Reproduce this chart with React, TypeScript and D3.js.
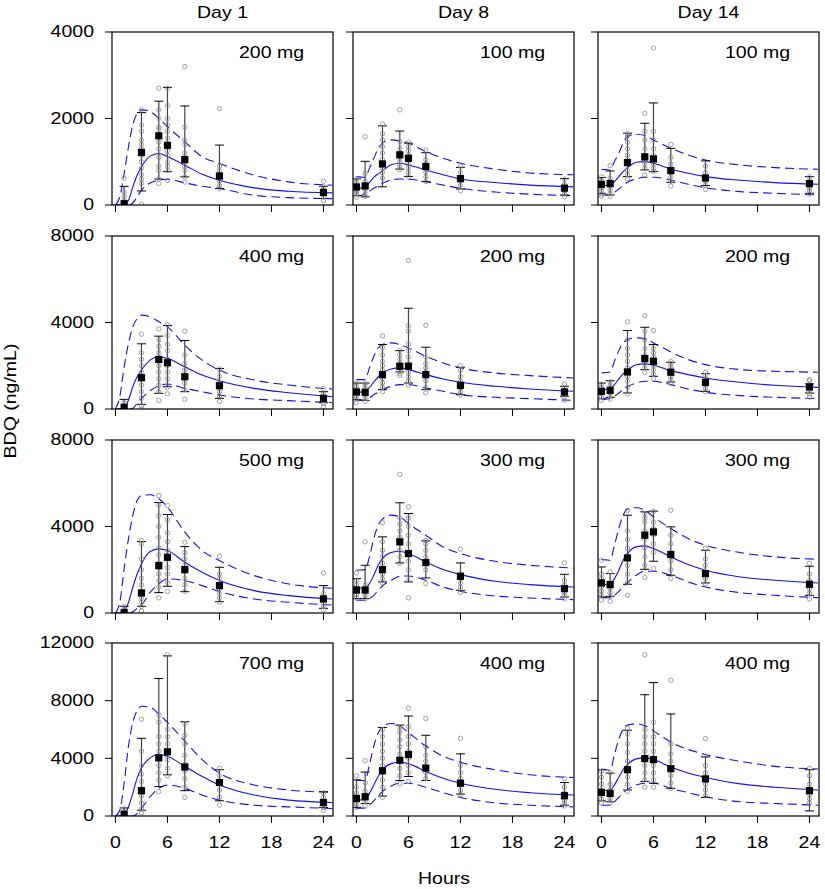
import * as d3 from "d3";

// Layout of the 4 x 3 grid (rows = dose groups, columns = days)
const colLeft = [112, 353, 598];
const rowTop = [32, 236, 440, 643];
const PW = 221;
const PH = 173;
const FONT = "'Liberation Sans', Arial, Helvetica, sans-serif";
const STRETCH = 1.22;

const days = ["Day 1", "Day 8", "Day 14"];
const doseLabels = [
  "200 mg", "100 mg", "100 mg",
  "400 mg", "200 mg", "200 mg",
  "500 mg", "300 mg", "300 mg",
  "700 mg", "400 mg", "400 mg",
];
const rowMax = [4000, 8000, 8000, 12000];
const rowTicks = [
  [0, 2000, 4000],
  [0, 4000, 8000],
  [0, 4000, 8000],
  [0, 4000, 8000, 12000],
];
const xTicks = [0, 6, 12, 18, 24];

// sampling times (h)
const day1Times = [1, 3, 5, 6, 8, 12, 24];
const laterTimes = [0, 1, 3, 5, 6, 8, 12, 24];
const curveTimes = [0, 0.5, 1, 1.5, 2, 2.5, 3, 4, 5, 6, 8, 10, 12, 16, 20, 25];

// observed mean per sampling time, panels in reading order
const meanConc = [
  [30, 1215, 1600, 1380, 1050, 670, 290],
  [417, 440, 950, 1160, 1080, 890, 610, 390],
  [479, 494, 980, 1112, 1065, 795, 625, 494],
  [77, 1446, 2292, 2138, 1492, 1077, 492],
  [787, 772, 1590, 1976, 1976, 1590, 1096, 787],
  [818, 864, 1714, 2330, 2208, 1700, 1235, 1020],
  [15, 926, 2192, 2578, 2007, 1266, 648],
  [1065, 1065, 2007, 3289, 2748, 2331, 1698, 1127],
  [1390, 1312, 2548, 3598, 3752, 2702, 1822, 1328],
  [117, 1757, 4030, 4452, 3397, 2320, 937],
  [1218, 1335, 3140, 3866, 4264, 3327, 2272, 1406],
  [1640, 1570, 3210, 3983, 3913, 3280, 2577, 1757],
];

const lowerBar = [
  [0, 325, 600, 770, 650, 380, 150],
  [216, 190, 420, 830, 660, 540, 370, 230],
  [270, 232, 656, 810, 770, 525, 450, 270],
  [0, 215, 723, 1030, 800, 492, 292],
  [430, 400, 895, 1714, 1200, 895, 663, 587],
  [480, 540, 740, 1820, 1513, 1250, 818, 740],
  [0, 309, 942, 1235, 988, 525, 216],
  [664, 664, 1436, 2316, 1436, 1621, 1050, 741],
  [741, 772, 1328, 2022, 2393, 1745, 1390, 818],
  [0, 400, 2038, 2858, 1757, 1054, 586],
  [586, 867, 1382, 2460, 2741, 2460, 1523, 750],
  [1054, 984, 1804, 2390, 2273, 1921, 1289, 351],
];

const upperBar = [
  [430, 2136, 2400, 2720, 2290, 1385, 433],
  [602, 1010, 1830, 1710, 1430, 1210, 870, 610],
  [633, 787, 1660, 1890, 2360, 1310, 1020, 656],
  [446, 3014, 3368, 3860, 3168, 1876, 800],
  [1200, 1200, 2980, 2700, 4660, 2856, 1930, 1050],
  [1200, 1310, 3630, 3780, 2980, 2160, 1636, 1160],
  [309, 3304, 5110, 4555, 3072, 2115, 1266],
  [1590, 2208, 3520, 5095, 4601, 3335, 2316, 1791],
  [2130, 1822, 4524, 4678, 4709, 3983, 2903, 2162],
  [560, 5390, 9536, 11106, 6537, 3210, 1687],
  [2507, 3046, 6139, 6303, 6935, 5600, 4311, 2320],
  [3210, 2976, 5951, 8411, 9255, 7076, 4100, 3210],
];

// individual concentrations per sampling time
const obsConc = [
  [[0, 50, 100, 200, 300, 620], [20, 500, 600, 700, 850, 1000, 1150, 1300, 1400, 1500, 1700, 1850, 2200], [500, 600, 800, 900, 1100, 1300, 1450, 1600, 1750, 1800, 2000, 2200, 2700], [570, 800, 900, 1000, 1150, 1250, 1400, 1550, 1700, 1850, 2000, 2300, 2700], [530, 650, 800, 900, 1000, 1100, 1200, 1400, 1500, 1800, 3200], [380, 450, 550, 650, 700, 800, 900, 2230], [100, 180, 250, 300, 350, 420, 550]],
  [[180, 250, 300, 350, 400, 450, 520, 600], [200, 260, 350, 450, 550, 730, 1580], [620, 750, 850, 950, 1050, 1200, 1350, 1500, 1650, 1870], [820, 900, 1000, 1100, 1200, 1300, 1470, 2200], [650, 750, 850, 950, 1050, 1150, 1250, 1350, 1450], [540, 650, 750, 850, 950, 1050, 1270], [330, 450, 550, 650, 750, 900], [190, 260, 330, 400, 480, 600]],
  [[200, 250, 330, 400, 480, 560, 650], [200, 260, 350, 450, 550, 620, 910], [600, 700, 800, 950, 1050, 1150, 1300, 1450, 1600, 1650], [700, 850, 950, 1050, 1150, 1300, 1500, 1700, 2120], [780, 850, 950, 1050, 1150, 1300, 1500, 1700, 3630], [440, 550, 650, 750, 850, 950, 1100, 1400], [360, 450, 550, 650, 750, 900], [250, 330, 400, 480, 550, 650]],
  [[0, 50, 100, 150, 300], [0, 150, 500, 800, 1100, 1400, 1700, 2000, 2300, 2600, 3460], [400, 800, 1100, 1400, 1700, 2000, 2300, 2600, 2900, 3200, 3700], [700, 1000, 1400, 1700, 2000, 2300, 2700, 3000, 3400, 3900], [450, 900, 1200, 1500, 1800, 2100, 2500, 3600], [350, 600, 800, 1000, 1200, 1500, 1850], [100, 250, 400, 550, 700, 950]],
  [[300, 450, 600, 750, 900, 1050, 1200], [350, 500, 650, 800, 950, 1100, 1200], [800, 1000, 1200, 1400, 1600, 1800, 2000, 2200, 2500, 2850, 3380], [1550, 1650, 1750, 1900, 2000, 2100, 2300, 2500, 2700], [1100, 1300, 1500, 1700, 1900, 2100, 2400, 2700, 3000, 3600, 3850, 6870], [750, 1000, 1300, 1500, 1700, 1900, 2100, 2400, 3870], [650, 800, 950, 1100, 1300, 1500, 1800, 2000], [400, 550, 700, 850, 1000, 1150]],
  [[400, 550, 700, 850, 1000, 1150], [450, 600, 750, 900, 1050, 1250], [700, 1000, 1300, 1500, 1700, 1900, 2200, 2500, 2800, 3200, 4030], [1700, 1900, 2100, 2300, 2500, 2800, 3200, 3600, 4320], [1400, 1600, 1800, 2000, 2200, 2400, 2600, 2800, 3630], [1200, 1350, 1500, 1650, 1800, 1950, 2100, 2200], [800, 950, 1100, 1250, 1400, 1550, 1700], [550, 700, 850, 950, 1100, 1300, 1360]],
  [[0, 50, 150, 300], [100, 300, 500, 700, 1000, 1300, 1600, 2000, 2500, 3200, 3350], [700, 1200, 1500, 1800, 2100, 2300, 2700, 3000, 3500, 4000, 4500, 5000, 5430], [1000, 1400, 1800, 2100, 2500, 2900, 3300, 3700, 4300, 4970], [1000, 1300, 1600, 1900, 2200, 2500, 2800, 3270], [500, 700, 900, 1100, 1300, 1600, 1800, 2620], [150, 300, 450, 600, 750, 900, 1850]],
  [[700, 850, 1000, 1150, 1300, 1500, 1850], [650, 800, 950, 1100, 1300, 3290], [1400, 1600, 1800, 2000, 2300, 2600, 2900, 3300, 4180], [2300, 2600, 2900, 3200, 3500, 3800, 4100, 4400, 6410], [700, 1500, 2000, 2400, 2800, 3200, 3600, 4000, 4400, 4910], [1360, 2000, 2300, 2600, 2900, 3200, 3350], [950, 1200, 1400, 1600, 1800, 2950], [650, 800, 950, 1100, 1300, 1500, 2320]],
  [[600, 800, 1000, 1200, 1400, 1600, 1800, 2440], [540, 750, 950, 1150, 1400, 1900], [820, 1400, 1800, 2200, 2600, 3000, 3400, 3800, 4750], [1640, 2200, 2600, 3000, 3400, 3800, 4200, 4400, 4600], [2050, 2800, 3200, 3600, 3900, 4200, 4700], [1600, 2000, 2400, 2800, 3200, 3600, 4750], [1350, 1600, 1900, 2200, 2500, 3000], [650, 900, 1100, 1300, 1500, 1800, 2300]],
  [[0, 100, 300, 500], [200, 500, 900, 1400, 1900, 2400, 2900, 3500, 4500, 6720], [1700, 2500, 3000, 3500, 4000, 4500, 5000, 5500, 6500, 7000], [2800, 3300, 3900, 4500, 5000, 5500, 6000, 11180], [1290, 2000, 2600, 3100, 3600, 4200, 5000, 5600, 6400], [750, 1300, 1800, 2300, 2800, 3300], [400, 600, 800, 1000, 1300, 1600]],
  [[600, 800, 1000, 1300, 1600, 2000, 2790], [700, 1000, 1300, 1700, 2300, 3840], [1300, 2000, 2500, 3000, 3500, 4000, 4500, 5000, 5500, 6000], [2250, 2800, 3300, 3800, 4300, 4800, 5300, 5800, 6100], [2400, 3000, 3500, 4000, 4500, 5000, 5500, 6200, 7470], [2600, 3000, 3400, 3800, 4200, 4800, 6770], [1500, 1800, 2200, 2600, 3000, 3500, 5390], [700, 900, 1100, 1300, 1600, 2000, 2600]],
  [[900, 1200, 1500, 1800, 2200, 2700, 3100], [900, 1200, 1500, 1800, 2200, 3000], [1700, 2200, 2700, 3200, 3800, 4400, 5000, 5700, 6100], [2000, 2500, 3000, 3500, 4000, 4500, 5000, 5500, 6000, 11180], [2000, 2500, 3000, 3500, 4000, 4500, 5000, 5500, 6500], [1900, 2300, 2800, 3300, 3800, 4300, 5000, 9420], [1400, 1800, 2200, 2600, 3000, 3500, 5370], [900, 1200, 1500, 1800, 2200, 2800, 3300]],
];

// model prediction: median, 5th and 95th percentiles at curveTimes
const medianPred = [
  [0, 0, 15, 110, 420, 690, 880, 1130, 1190, 1115, 920, 710, 570, 395, 317, 280],
  [386, 390, 425, 520, 640, 720, 790, 930, 965, 926, 810, 700, 600, 520, 460, 420],
  [448, 450, 463, 540, 656, 772, 865, 988, 1004, 965, 834, 733, 656, 571, 517, 479],
  [0, 0, 30, 415, 1030, 1490, 1800, 2260, 2415, 2340, 1950, 1570, 1307, 954, 754, 570],
  [772, 780, 818, 1000, 1250, 1480, 1667, 1850, 1900, 1820, 1590, 1390, 1235, 1050, 926, 818],
  [895, 900, 940, 1127, 1390, 1620, 1790, 2050, 2085, 2022, 1775, 1590, 1436, 1235, 1096, 1000],
  [0, 0, 60, 494, 1190, 1806, 2270, 2840, 2965, 2887, 2347, 1884, 1498, 1034, 803, 648],
  [1158, 1158, 1158, 1359, 1745, 2208, 2517, 2795, 2856, 2748, 2362, 2007, 1776, 1467, 1312, 1204],
  [1312, 1320, 1359, 1590, 1976, 2440, 2748, 3057, 3103, 2980, 2594, 2239, 1976, 1667, 1513, 1390],
  [0, 0, 117, 630, 1570, 2624, 3327, 4030, 4264, 4147, 3444, 2741, 2155, 1453, 1101, 937],
  [1100, 1110, 1148, 1570, 2155, 2741, 3210, 3632, 3725, 3632, 3093, 2624, 2272, 1851, 1617, 1453],
  [1757, 1770, 1804, 2155, 2694, 3210, 3561, 3960, 4030, 3913, 3397, 2976, 2671, 2226, 1991, 1804],
];

const p95Pred = [
  [0, 185, 727, 1347, 1850, 2120, 2200, 2160, 2005, 1810, 1463, 1115, 960, 690, 534, 457],
  [656, 645, 640, 850, 1080, 1300, 1430, 1505, 1480, 1430, 1235, 1080, 965, 830, 740, 700],
  [826, 818, 810, 1004, 1197, 1428, 1582, 1637, 1605, 1505, 1312, 1158, 1042, 926, 865, 826],
  [0, 570, 1953, 3030, 3800, 4180, 4340, 4260, 4030, 3800, 2950, 2260, 1800, 1340, 1107, 923],
  [1360, 1360, 1360, 1900, 2440, 2825, 2980, 3057, 2980, 2825, 2440, 2130, 1900, 1667, 1544, 1436],
  [1667, 1690, 1714, 2208, 2700, 3057, 3211, 3290, 3242, 3057, 2640, 2285, 2053, 1822, 1745, 1700],
  [0, 494, 2038, 3428, 4508, 5203, 5435, 5466, 5280, 4895, 3736, 2887, 2424, 1730, 1343, 1143],
  [1976, 1990, 2007, 2594, 3443, 4060, 4338, 4524, 4447, 4138, 3597, 3057, 2748, 2393, 2208, 2084],
  [2470, 2455, 2440, 3134, 3906, 4524, 4802, 4864, 4755, 4447, 3906, 3443, 3134, 2795, 2594, 2486],
  [0, 398, 2272, 4850, 6490, 7310, 7615, 7545, 7076, 6490, 5200, 3913, 2976, 2155, 1804, 1640],
  [2460, 2460, 2460, 3561, 4850, 5740, 6209, 6420, 6256, 5787, 4850, 4147, 3725, 3210, 2858, 2671],
  [3257, 3210, 3163, 4264, 5319, 6022, 6303, 6397, 6256, 5904, 5131, 4616, 4264, 3796, 3444, 3257],
];

const p5Pred = [
  [0, 0, 0, 0, 46, 185, 340, 510, 573, 596, 511, 433, 380, 225, 170, 147],
  [216, 218, 270, 320, 386, 440, 500, 580, 600, 595, 540, 460, 386, 300, 250, 216],
  [232, 232, 232, 293, 370, 448, 525, 602, 640, 640, 579, 479, 401, 309, 270, 232],
  [0, 0, 0, 0, 30, 260, 490, 846, 1077, 1153, 954, 800, 646, 461, 385, 292],
  [400, 410, 430, 510, 663, 772, 895, 1050, 1127, 1127, 973, 818, 663, 540, 478, 400],
  [430, 455, 480, 587, 740, 895, 1035, 1200, 1280, 1280, 1127, 926, 772, 618, 540, 480],
  [0, 0, 0, 0, 60, 216, 370, 957, 1343, 1575, 1498, 1266, 988, 648, 494, 370],
  [587, 587, 587, 664, 818, 1050, 1250, 1513, 1698, 1714, 1513, 1204, 1004, 787, 695, 618],
  [710, 710, 710, 818, 1004, 1204, 1405, 1745, 1930, 1930, 1745, 1436, 1204, 942, 818, 710],
  [0, 0, 0, 0, 0, 164, 515, 1335, 1921, 2155, 1921, 1453, 1101, 750, 633, 515],
  [515, 540, 562, 750, 1054, 1382, 1687, 2085, 2272, 2272, 1991, 1617, 1289, 914, 750, 633],
  [750, 750, 750, 984, 1289, 1617, 1851, 2155, 2272, 2272, 1921, 1617, 1335, 984, 867, 750],
];

const Label = ({ x, y, anchor = "middle", rotate = 0, baseline, children }: any) => (
  <text
    transform={`translate(${x},${y}) rotate(${rotate}) scale(${STRETCH},1)`}
    textAnchor={anchor}
    dominantBaseline={baseline}
    fontFamily={FONT}
    fontSize={16}
    fill="#000"
  >
    {children}
  </text>
);

const Panel = ({ idx }: { idx: number }) => {
  const r = Math.floor(idx / 3);
  const c = idx % 3;
  const left = colLeft[c];
  const top = rowTop[r];
  const x = d3.scaleLinear().domain([-0.4, 25.1]).range([left, left + PW]);
  const y = d3.scaleLinear().domain([0, rowMax[r]]).range([top + PH, top]);
  const times = c === 0 ? day1Times : laterTimes;
  const line = d3
    .line<number>()
    .x((_, i) => x(curveTimes[i]))
    .y((d) => y(d))
    .curve(d3.curveMonotoneX);
  const clipId = `clip-${idx}`;
  const blue = "#1010f0";

  return (
    <g>
      <clipPath id={clipId}>
        <rect x={left} y={top} width={PW} height={PH} />
      </clipPath>
      <g clipPath={`url(#${clipId})`}>
        <path d={line(p95Pred[idx]) || ""} fill="none" stroke={blue} strokeWidth={1.1} strokeDasharray="9,5" />
        <path d={line(p5Pred[idx]) || ""} fill="none" stroke={blue} strokeWidth={1.1} strokeDasharray="9,5" />
        <path d={line(medianPred[idx]) || ""} fill="none" stroke={blue} strokeWidth={1.1} />
        {times.map((t, i) => {
          const cx = x(t);
          const lo = y(Math.max(0, lowerBar[idx][i]));
          const hi = y(upperBar[idx][i]);
          return (
            <g key={`e${i}`}>
              <line x1={cx} x2={cx} y1={lo} y2={hi} stroke="#444" strokeWidth={1.2} />
              <line x1={cx - 4.5} x2={cx + 4.5} y1={hi} y2={hi} stroke="#000" strokeWidth={1} />
              <line x1={cx - 4.5} x2={cx + 4.5} y1={lo} y2={lo} stroke="#000" strokeWidth={1} />
            </g>
          );
        })}
        {times.map((t, i) =>
          obsConc[idx][i].map((v, j) => (
            <circle key={`o${i}-${j}`} cx={x(t)} cy={y(v)} r={2.2} fill="none" stroke="#8a8a8a" strokeWidth={0.8} />
          ))
        )}
        {times.map((t, i) => (
          <rect key={`m${i}`} x={x(t) - 3.6} y={y(meanConc[idx][i]) - 3.6} width={7.2} height={7.2} fill="#000" />
        ))}
      </g>
      <rect x={left} y={top} width={PW} height={PH} fill="none" stroke="#000" strokeWidth={1.2} />
      {rowTicks[r].map((v) => (
        <g key={`yt${v}`}>
          <line x1={left - 7} x2={left} y1={y(v)} y2={y(v)} stroke="#000" strokeWidth={1} />
          {c === 0 && (
            <Label x={left - 18} y={y(v)} anchor="end" baseline="central">
              {v}
            </Label>
          )}
        </g>
      ))}
      {xTicks.map((t) => (
        <g key={`xt${t}`}>
          <line x1={x(t)} x2={x(t)} y1={top + PH} y2={top + PH + 7} stroke="#000" strokeWidth={1} />
          {r === 3 && (
            <Label x={x(t)} y={top + PH + 32}>
              {t}
            </Label>
          )}
        </g>
      ))}
      <Label x={left + PW - 29} y={top + 26} anchor="end">
        {doseLabels[idx]}
      </Label>
    </g>
  );
};

export default function App() {
  return (
    <svg
      width={825}
      height={889}
      style={{ position: "absolute", left: 0, top: 0, background: "#fff" }}
    >
      {days.map((d, c) => (
        <Label key={d} x={colLeft[c] + PW / 2} y={18}>
          {d}
        </Label>
      ))}
      {d3.range(12).map((i) => (
        <Panel key={i} idx={i} />
      ))}
      <Label x={16} y={401} rotate={-90}>
        BDQ (ng/mL)
      </Label>
      <Label x={444} y={884}>
        Hours
      </Label>
    </svg>
  );
}
